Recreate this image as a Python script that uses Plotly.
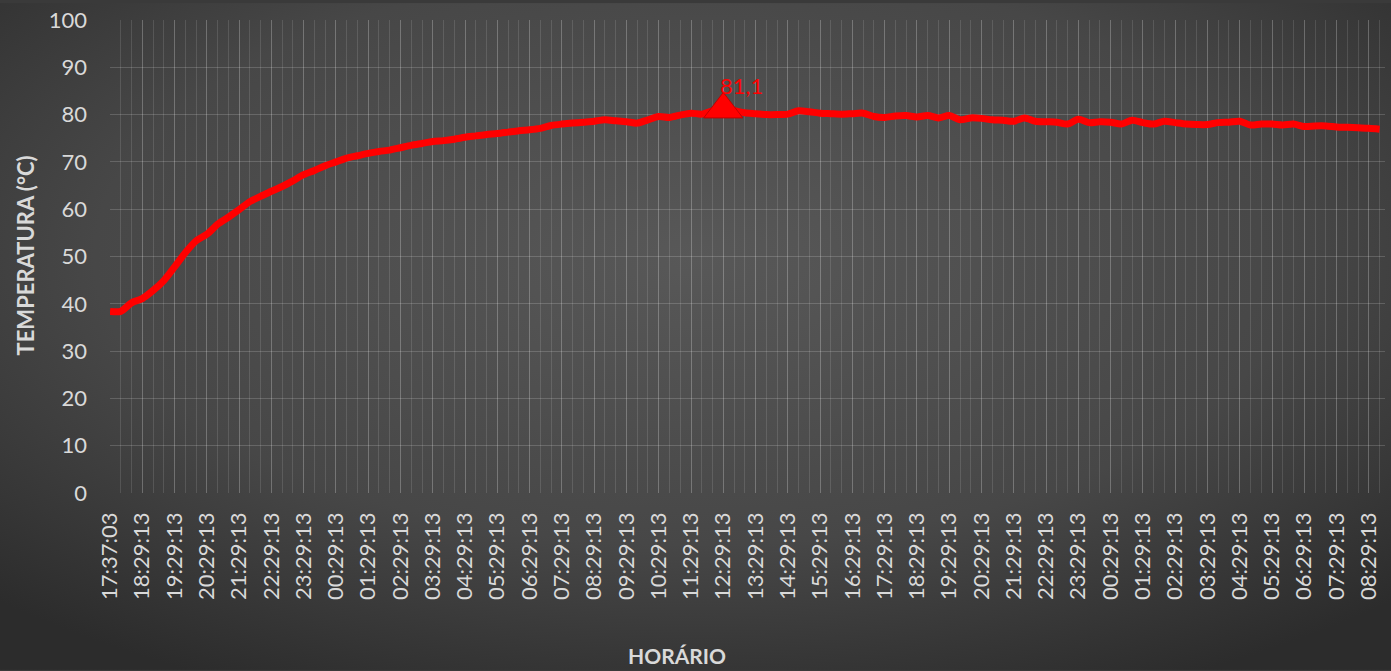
import base64
import plotly.graph_objects as go

# Hourly category labels on the x axis
hour_labels = [
    "17:37:03", "18:29:13", "19:29:13", "20:29:13", "21:29:13", "22:29:13",
    "23:29:13", "00:29:13", "01:29:13", "02:29:13", "03:29:13", "04:29:13",
    "05:29:13", "06:29:13", "07:29:13", "08:29:13", "09:29:13", "10:29:13",
    "11:29:13", "12:29:13", "13:29:13", "14:29:13", "15:29:13", "16:29:13",
    "17:29:13", "18:29:13", "19:29:13", "20:29:13", "21:29:13", "22:29:13",
    "23:29:13", "00:29:13", "01:29:13", "02:29:13", "03:29:13", "04:29:13",
    "05:29:13", "06:29:13", "07:29:13", "08:29:13",
]

# Temperature readings (°C), three readings per labelled hour
temperatures = [
    38.4, 38.4, 40.2, 41.1, 42.8, 44.9, 47.8, 50.8, 53.3, 54.7,
    56.8, 58.3, 59.9, 61.6, 62.7, 63.8, 64.8, 66.0, 67.3, 68.2,
    69.2, 70.0, 70.8, 71.3, 71.8, 72.2, 72.5, 73.0, 73.5, 73.9,
    74.3, 74.5, 74.8, 75.2, 75.5, 75.8, 76.0, 76.3, 76.6, 76.8,
    77.1, 77.7, 78.0, 78.2, 78.4, 78.6, 78.9, 78.7, 78.5, 78.2,
    78.9, 79.6, 79.4, 79.9, 80.3, 80.1, 80.8, 81.1, 80.8, 80.4,
    80.2, 80.0, 80.0, 80.1, 80.8, 80.6, 80.3, 80.2, 80.1, 80.2,
    80.3, 79.6, 79.4, 79.7, 79.8, 79.5, 79.8, 79.3, 79.8, 78.9,
    79.3, 79.2, 78.9, 78.8, 78.6, 79.3, 78.6, 78.5, 78.4, 78.0,
    79.0, 78.3, 78.5, 78.4, 78.0, 78.8, 78.3, 78.0, 78.6, 78.3,
    78.0, 77.9, 77.9, 78.3, 78.4, 78.6, 77.8, 78.0, 78.0, 77.8,
    78.0, 77.5, 77.6, 77.6, 77.4, 77.3, 77.2, 77.1, 76.9,
]

y_ticks = [0, 10, 20, 30, 40, 50, 60, 70, 80, 90, 100]

READINGS_PER_LABEL = 3
x_pos = [i / READINGS_PER_LABEL for i in range(len(temperatures))]
tick_pos = list(range(len(hour_labels)))

peak_idx = max(range(len(temperatures)), key=lambda i: temperatures[i])
peak_val = temperatures[peak_idx]
peak_text = f"{peak_val:.1f}".replace(".", ",")

W, H = 1391, 671
ML, MR, MT, MB = 110, 6, 17, 178
PW, PH = W - ML - MR, H - MT - MB

svg = f"""<svg xmlns='http://www.w3.org/2000/svg' width='{W}' height='{H}'>
<defs><radialGradient id='g' cx='0.5' cy='0.38' r='0.72'>
<stop offset='0' stop-color='#585858'/><stop offset='0.6' stop-color='#474747'/><stop offset='1' stop-color='#2c2c2c'/>
</radialGradient></defs><rect width='100%' height='100%' fill='url(#g)'/></svg>"""
bg_uri = "data:image/svg+xml;base64," + base64.b64encode(svg.encode()).decode()

fig = go.Figure()
fig.add_trace(go.Scatter(
    x=x_pos, y=temperatures, mode="lines",
    line=dict(color="#ff0000", width=7, shape="spline", smoothing=0.8),
    hoverinfo="y", showlegend=False,
))
fig.add_trace(go.Scatter(
    x=[x_pos[peak_idx]], y=[peak_val], mode="markers",
    marker=dict(symbol="triangle-up", size=34, color="#ff0000",
                line=dict(color="#c00000", width=1)),
    showlegend=False,
))
fig.add_annotation(
    x=x_pos[peak_idx], y=peak_val, text=peak_text, showarrow=False,
    xanchor="left", yanchor="bottom", xshift=-5, yshift=8,
    font=dict(family="Lato", size=22, color="#ff0000"),
)
fig.add_annotation(
    xref="paper", yref="paper", x=(677 - ML) / PW, y=(MT + PH - 657) / PH,
    text="<b>HORÁRIO</b>", showarrow=False, xanchor="center", yanchor="middle",
    font=dict(family="Lato", size=21, color="#d9d9d9"),
)
fig.add_annotation(
    xref="paper", yref="paper", x=(26 - ML) / PW, y=(MT + PH - 254) / PH,
    text="<b>TEMPERATURA (°C)</b>", showarrow=False, textangle=-90,
    xanchor="center", yanchor="middle",
    font=dict(family="Lato", size=22, color="#d9d9d9"),
)

fig.update_layout(
    width=W, height=H,
    margin=dict(l=ML, r=MR, t=MT, b=MB),
    paper_bgcolor="#3a3a3a", plot_bgcolor="rgba(0,0,0,0)",
    font=dict(family="Lato", color="#d9d9d9"),
    images=[dict(source=bg_uri, xref="paper", yref="paper",
                 x=-ML / PW, y=1 + MT / PH, sizex=W / PW, sizey=H / PH,
                 xanchor="left", yanchor="top", sizing="stretch", layer="below")],
    xaxis=dict(
        range=[0, len(hour_labels) - 0.5],
        tickvals=tick_pos, ticktext=hour_labels, tickangle=-90,
        tickfont=dict(family="Lato", size=22, color="#d9d9d9"),
        showgrid=True, gridcolor="rgba(255,255,255,0.15)", gridwidth=1,
        minor=dict(dtick=1 / READINGS_PER_LABEL, tick0=0, showgrid=True,
                   gridcolor="rgba(255,255,255,0.12)", gridwidth=1),
        zeroline=False, showline=False, ticks="", ticklabelstandoff=14,
        fixedrange=True,
    ),
    yaxis=dict(
        range=[0, 100], tickvals=y_ticks,
        tickfont=dict(family="Lato", size=22, color="#d9d9d9"),
        showgrid=True, gridcolor="rgba(255,255,255,0.17)", gridwidth=1,
        zeroline=False, showline=False, ticks="", ticklabelstandoff=22,
        fixedrange=True,
    ),
)

fig.write_html(
    "out.html",
    config={"displayModeBar": False},
    post_script="document.body.style.margin='0';document.body.style.background='#2c2c2c';",
)
